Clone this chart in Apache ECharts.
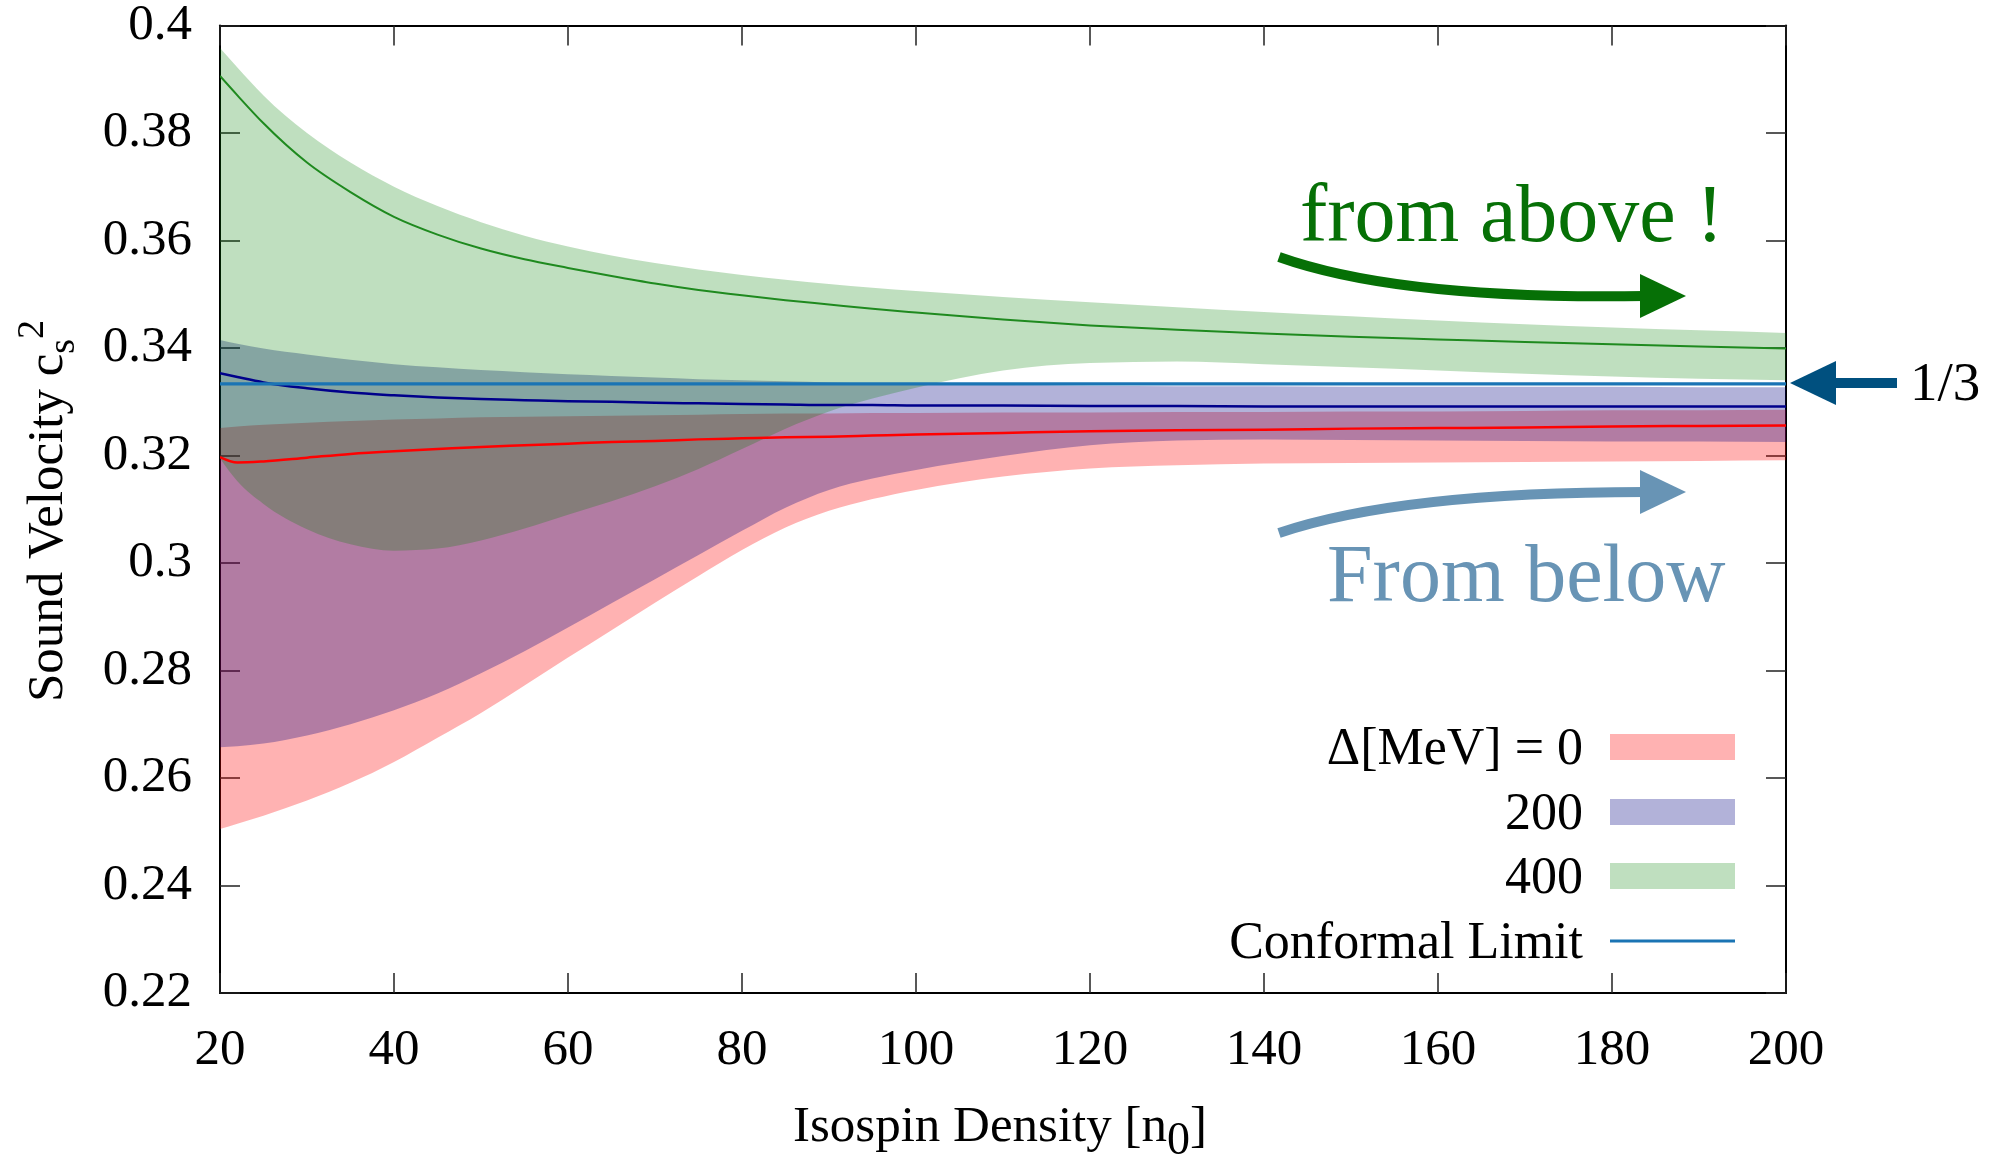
<!DOCTYPE html>
<html><head><meta charset="utf-8">
<script src="https://cdn.jsdelivr.net/npm/echarts@6/dist/echarts.min.js"></script>
<style>html,body{margin:0;padding:0;background:#fff}#c{width:1996px;height:1159px}</style>
</head><body><div id="c"></div>
<script>
// ---- data ----
const xs = [20,22,25,30,35,40,45,50,55,60,65,70,75,80,85,90,95,100,110,120,130,140,150,160,170,180,190,200];
// Delta = 0 MeV
const redLower  = [0.2505,0.2515,0.2530,0.2558,0.2591,0.2630,0.2675,0.2721,0.2772,0.2824,0.2875,0.2926,0.2976,0.3024,0.3066,0.3097,0.3119,0.3136,0.3161,0.3176,0.3182,0.3185,0.3186,0.3187,0.3188,0.3189,0.3190,0.3191];
const redUpper  = [0.3251,0.3254,0.3257,0.3261,0.3264,0.3267,0.3269,0.3271,0.3272,0.3273,0.3274,0.3275,0.3276,0.3277,0.3278,0.3278,0.3279,0.3279,0.3280,0.3280,0.3281,0.3281,0.3282,0.3282,0.3283,0.3284,0.3284,0.3285];
const redCenter = [0.3197,0.3187,0.3189,0.3196,0.3203,0.3208,0.3212,0.3216,0.3219,0.3222,0.3225,0.3227,0.3230,0.3232,0.3234,0.3235,0.3237,0.3239,0.3242,0.3245,0.3247,0.3248,0.3250,0.3251,0.3252,0.3254,0.3255,0.3256];
// Delta = 200 MeV
const blueLower  = [0.2657,0.2659,0.2664,0.2679,0.2700,0.2726,0.2757,0.2795,0.2836,0.2880,0.2925,0.2970,0.3015,0.3060,0.3103,0.3136,0.3157,0.3173,0.3199,0.3219,0.3228,0.3230,0.3229,0.3228,0.3227,0.3226,0.3226,0.3225];
const blueUpper  = [0.3415,0.3408,0.3399,0.3388,0.3378,0.3370,0.3364,0.3359,0.3355,0.3351,0.3348,0.3345,0.3342,0.3340,0.3338,0.3336,0.3334,0.3333,0.3331,0.3330,0.3329,0.3329,0.3328,0.3328,0.3328,0.3328,0.3327,0.3327];
const blueCenter = [0.3353,0.3346,0.3336,0.3325,0.3317,0.3312,0.3308,0.3305,0.3303,0.3301,0.3300,0.3298,0.3297,0.3296,0.3295,0.3294,0.3294,0.3293,0.3293,0.3292,0.3292,0.3291,0.3291,0.3291,0.3291,0.3291,0.3291,0.3291];
// Delta = 400 MeV
const greenLower  = [0.3195,0.3152,0.3110,0.3063,0.3035,0.3023,0.3027,0.3042,0.3064,0.3090,0.3115,0.3143,0.3175,0.3212,0.3250,0.3282,0.3306,0.3326,0.3358,0.3372,0.3375,0.3370,0.3364,0.3358,0.3352,0.3347,0.3343,0.3340];
const greenUpper  = [0.3958,0.3922,0.3870,0.3800,0.3745,0.3700,0.3664,0.3634,0.3609,0.3589,0.3572,0.3558,0.3546,0.3536,0.3527,0.3519,0.3512,0.3506,0.3495,0.3485,0.3476,0.3467,0.3459,0.3451,0.3444,0.3438,0.3433,0.3428];
const greenCenter = [0.3906,0.3870,0.3818,0.3745,0.3690,0.3644,0.3611,0.3585,0.3565,0.3549,0.3534,0.3520,0.3508,0.3498,0.3489,0.3481,0.3473,0.3466,0.3453,0.3442,0.3434,0.3427,0.3421,0.3416,0.3411,0.3407,0.3403,0.3399];
// conformal limit
const confX = [20, 200];
const confY = [0.33333, 0.33333];
const legendLabels = ['\u0394[MeV] = 0', '200', '400', 'Conformal Limit'];
const xTicks = {min: 20, max: 200, interval: 20};
const yTicks = {min: 0.22, max: 0.4, interval: 0.02};

// ---- build ----
const FONT = '"Liberation Serif", "DejaVu Serif", serif';

// monotone cubic (d3 monotoneX style) bezier segments through pixel points
function sgn(v) { return v < 0 ? -1 : 1; }
function monoSegs(p) {
  const n = p.length, m = new Array(n);
  const h = [], s = [];
  for (let i = 0; i < n - 1; i++) { h[i] = p[i + 1][0] - p[i][0]; s[i] = (p[i + 1][1] - p[i][1]) / h[i]; }
  for (let i = 1; i < n - 1; i++) {
    const pp = (s[i - 1] * h[i] + s[i] * h[i - 1]) / (h[i - 1] + h[i]);
    m[i] = (sgn(s[i - 1]) + sgn(s[i])) * Math.min(Math.abs(s[i - 1]), Math.abs(s[i]), 0.5 * Math.abs(pp)) || 0;
  }
  m[0] = n > 2 ? (3 * s[0] - m[1]) / 2 : s[0];
  m[n - 1] = n > 2 ? (3 * s[n - 2] - m[n - 2]) / 2 : s[0];
  const segs = [];
  for (let i = 0; i < n - 1; i++) {
    const d = h[i] / 3;
    segs.push([p[i][0] + d, p[i][1] + m[i] * d, p[i + 1][0] - d, p[i + 1][1] - m[i + 1] * d, p[i + 1][0], p[i + 1][1]]);
  }
  return segs;
}
function bandPath(up, lo) {
  let d = 'M' + up[0][0] + ',' + up[0][1];
  monoSegs(up).forEach(s => { d += 'C' + s.join(','); });
  const n = lo.length;
  d += 'L' + lo[n - 1][0] + ',' + lo[n - 1][1];
  const ls = monoSegs(lo);
  for (let i = ls.length - 1; i >= 0; i--) {
    const s = ls[i];
    d += 'C' + [s[2], s[3], s[0], s[1], lo[i][0], lo[i][1]].join(',');
  }
  return d + 'Z';
}
function linePath(pts) {
  let d = 'M' + pts[0][0] + ',' + pts[0][1];
  monoSegs(pts).forEach(s => { d += 'C' + s.join(','); });
  return d;
}

function band(lo, hi, fill) {
  return {type: 'custom', data: [[xs[0], lo[0]]], clip: true, silent: true, z: 1,
    encode: {x: 0, y: 1},
    renderItem: (params, api) => {
      const up = xs.map((x, i) => api.coord([x, hi[i]]));
      const dn = xs.map((x, i) => api.coord([x, lo[i]]));
      return {type: 'path', shape: {pathData: bandPath(up, dn)}, style: {fill: fill, stroke: null}};
    }};
}
function centerLine(ys, color, w) {
  return {type: 'custom', data: [[xs[0], ys[0]]], clip: true, silent: true, z: 3,
    encode: {x: 0, y: 1},
    renderItem: (params, api) => {
      const pts = xs.map((x, i) => api.coord([x, ys[i]]));
      return {type: 'path', shape: {pathData: linePath(pts)}, style: {fill: null, stroke: color, lineWidth: w}};
    }};
}

const chart = echarts.init(document.getElementById('c'), null, {renderer: 'canvas'});

const axisCommon = {
  axisLine: {show: true, onZero: false, lineStyle: {color: '#000', width: 2}},
  axisTick: {show: true, inside: true, length: 20, lineStyle: {color: '#222', width: 1.5}},
  splitLine: {show: false}
};

const option = {
  animation: false,
  backgroundColor: '#fff',
  grid: {left: 220, right: 210, top: 25, bottom: 166, containLabel: false},
  xAxis: [
    Object.assign({type: 'value', position: 'bottom', min: xTicks.min, max: xTicks.max, interval: xTicks.interval,
      axisLabel: {show: true, fontFamily: FONT, fontSize: 51, color: '#000', margin: 32}}, axisCommon),
    Object.assign({type: 'value', position: 'top', min: xTicks.min, max: xTicks.max, interval: xTicks.interval,
      axisLabel: {show: false}}, axisCommon)
  ],
  yAxis: [
    Object.assign({type: 'value', position: 'left', min: yTicks.min, max: yTicks.max, interval: yTicks.interval,
      axisLabel: {show: true, fontFamily: FONT, fontSize: 51, color: '#000', margin: 28,
        formatter: v => String(Math.round(v * 100) / 100)}}, axisCommon),
    Object.assign({type: 'value', position: 'right', min: yTicks.min, max: yTicks.max, interval: yTicks.interval,
      axisLabel: {show: false}}, axisCommon)
  ],
  series: [
    band(redLower, redUpper, 'rgba(255,0,0,0.3)'),
    band(blueLower, blueUpper, 'rgba(0,0,128,0.3)'),
    band(greenLower, greenUpper, 'rgba(0,128,0,0.25)'),
    centerLine(redCenter, '#ff0000', 2.5),
    centerLine(blueCenter, '#00008b', 2.5),
    centerLine(greenCenter, '#1f8a1f', 2),
    {type: 'line', data: confX.map((x, i) => [x, confY[i]]), symbol: 'none', silent: true, z: 4,
     lineStyle: {color: '#1a74b4', width: 3.2}}
  ]
};
chart.setOption(option);

// ---- text measurement for titles ----
const mctx = document.createElement('canvas').getContext('2d');
function tw(t, size) { mctx.font = size + 'px ' + FONT; return mctx.measureText(t).width; }
function txt(t, x, y, size, color, align, extra) {
  return Object.assign({type: 'text', z: 100, style: {text: t, x: x, y: y, font: size + 'px ' + FONT,
    fill: color, textAlign: align || 'left', align: align || 'left', textVerticalAlign: 'middle', verticalAlign: 'middle'}}, extra || {});
}
const MID = 0.3375; // canvas middle above baseline (em)

const g = [];
// x-axis title: "Isospin Density [n_0]"
(function () {
  const A = 'Isospin Density [n', B = '0', C = ']';
  const s = 51, ss = 46, base = 1145;
  const wA = tw(A, s), wB = tw(B, ss), wC = tw(C, s);
  let x0 = 1000 - (wA + wB + wC) / 2;
  g.push(txt(A, x0, base - MID * s, s, '#000'));
  g.push(txt(B, x0 + wA, base + 12 - MID * ss, ss, '#000'));
  g.push(txt(C, x0 + wA + wB, base - MID * s, s, '#000'));
})();
// y-axis title: "Sound Velocity c_s^2" (rotated)
(function () {
  const A = 'Sound Velocity c', B = 's', C = '2';
  const s = 51, ss = 38;
  const wA = tw(A, s), wB = tw(B, ss), wC = tw(C, ss);
  const x0 = -(wA + wB + wC) / 2;
  g.push({type: 'group', x: 66, y: 511, rotation: Math.PI / 2, z: 100, children: [
    txt(A, x0, -MID * s, s, '#000'),
    txt(B, x0 + wA, 11 - MID * ss, ss, '#000'),
    txt(C, x0 + wA + wB, -20 - MID * ss, ss, '#000')
  ]});
})();
// legend (drawn as graphics)
const legendRows = [747, 812, 876, 941];
const swatch = ['rgba(255,0,0,0.3)', 'rgba(0,0,128,0.3)', 'rgba(0,128,0,0.25)'];
legendLabels.forEach((lab, i) => {
  g.push(txt(lab, 1583, legendRows[i] + 3, 52, '#000', 'right'));
  if (i < 3) {
    g.push({type: 'rect', z: 100, shape: {x: 1610, y: legendRows[i] - 13, width: 125, height: 26}, style: {fill: swatch[i]}});
  } else {
    g.push({type: 'line', z: 100, shape: {x1: 1610, y1: legendRows[i], x2: 1735, y2: legendRows[i]}, style: {stroke: '#1a74b4', lineWidth: 3}});
  }
});
// annotations
const GREEN = '#067006', STEEL = '#6894b5', DARKB = '#00507f';
g.push(txt('from above !', 1300, 247 - MID * 82, 82, GREEN));
g.push({type: 'bezierCurve', z: 100, shape: {x1: 1279, y1: 257, cpx1: 1400, cpy1: 300, x2: 1645, y2: 296},
  style: {stroke: GREEN, lineWidth: 10, fill: null}});
g.push({type: 'polygon', z: 100, shape: {points: [[1640, 274], [1686, 296], [1640, 318]]}, style: {fill: GREEN}});

g.push(txt('From below', 1327, 607 - MID * 82, 82, STEEL));
g.push({type: 'bezierCurve', z: 100, shape: {x1: 1279, y1: 533, cpx1: 1400, cpy1: 492, x2: 1645, y2: 492},
  style: {stroke: STEEL, lineWidth: 10, fill: null}});
g.push({type: 'polygon', z: 100, shape: {points: [[1640, 470], [1686, 492], [1640, 514]]}, style: {fill: STEEL}});

g.push({type: 'polygon', z: 100, shape: {points: [[1790, 383], [1836, 361], [1836, 405]]}, style: {fill: DARKB}});
g.push({type: 'rect', z: 100, shape: {x: 1834, y: 378, width: 63, height: 10}, style: {fill: DARKB}});
g.push(txt('1/3', 1910, 404 - MID * 55, 55, '#000'));

chart.setOption({graphic: {elements: g}});
</script>
</body></html>
